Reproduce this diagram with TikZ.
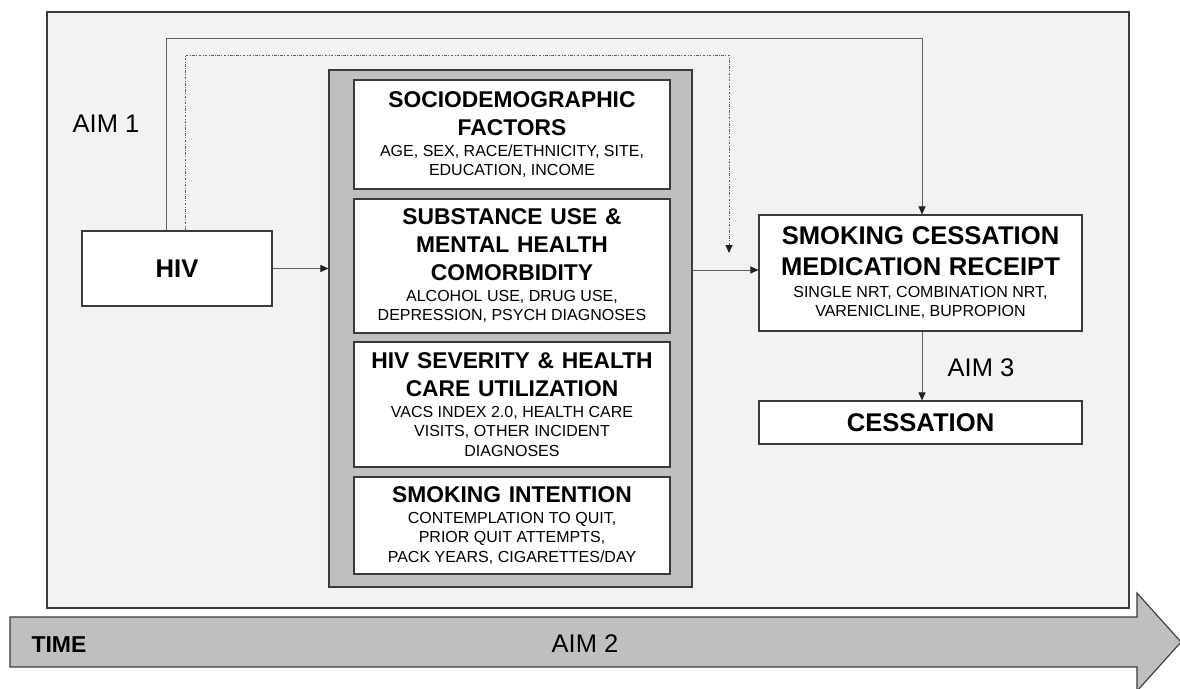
\documentclass[tikz,border=0pt]{standalone}
\usepackage{fontspec}
\setmainfont{Liberation Sans}
\usetikzlibrary{arrows.meta,positioning}
\definecolor{bgl}{HTML}{F2F2F2}
\definecolor{gry}{HTML}{BFBFBF}
\definecolor{edge}{HTML}{3A3A3A}
\definecolor{lne}{HTML}{5E5E5E}
\definecolor{tip}{HTML}{202020}
\newcommand{\hdA}{\fontsize{22.8}{27.7}\selectfont\bfseries\spaceskip=0.34em\relax}
\newcommand{\hdB}{\fontsize{25.6}{31}\selectfont\bfseries\spaceskip=0.3em\relax}
\newcommand{\sbA}{\fontsize{16}{19.5}\selectfont\spaceskip=0.28em\relax}
\newcommand{\aimf}{\fontsize{25.5}{30}\selectfont}
\tikzset{
  wbox/.style={draw=edge, line width=1.1pt, fill=white, rectangle, inner sep=0pt, align=center},
  conn/.style={draw=lne, line width=0.9pt},
  arr/.style={conn, -{Triangle[length=8pt,width=7pt,color=tip]}},
  dotconn/.style={draw=lne, line width=0.8pt, dash pattern=on 2.5pt off 1.5pt on 0.8pt off 1.5pt},
  darr/.style={dotconn, -{Triangle[length=8pt,width=7pt,color=tip]}},
}
\begin{document}
\begin{tikzpicture}[x=1pt,y=-1pt]
\useasboundingbox (0,0) rectangle (1180,688);
\fill[white] (0,0) rectangle (1180,688);
% outer light box
\node[draw=edge, line width=1.2pt, fill=bgl, minimum width=1082pt, minimum height=596pt, inner sep=0pt] (outer) at (588,310) {};
% time arrow
\draw[edge, line width=1.1pt, fill=gry, line join=miter]
  (10,617) -- (1137,617) -- (1137,593) -- (1181,642) -- (1137,691) -- (1137,667) -- (10,667) -- cycle;
\node[anchor=base west, font=\fontsize{23}{27}\selectfont\bfseries] (time) at (28,652) {TIME};
\node[anchor=base, font=\aimf] (aim2) at (585,652) {AIM 2};
% grey container
\node[draw=edge, line width=1.1pt, fill=gry, minimum width=363pt, minimum height=517pt, inner sep=0pt] (grey) at (510.5,328.5) {};
% inner boxes
\node[wbox, minimum width=316pt, minimum height=109pt, text width=312pt] (socio) at (512,134.5)
  {{\hdA SOCIODEMOGRAPHIC\\FACTORS\par}\vspace{1.5pt}{\sbA AGE, SEX, RACE/ETHNICITY, SITE,\\EDUCATION, INCOME\par}};
\node[wbox, minimum width=316pt, minimum height=134pt, text width=312pt] (subst) at (512,266)
  {{\hdA SUBSTANCE USE \&\\MENTAL HEALTH\\COMORBIDITY\par}\vspace{1.5pt}{\sbA ALCOHOL USE, DRUG USE,\\DEPRESSION, PSYCH DIAGNOSES\par}};
\node[wbox, minimum width=316pt, minimum height=125pt, text width=312pt] (sev) at (512,404.5)
  {{\hdA HIV SEVERITY \& HEALTH\\CARE UTILIZATION\par}\vspace{1.5pt}{\sbA VACS INDEX 2.0, HEALTH CARE\\VISITS, OTHER INCIDENT\\DIAGNOSES\par}};
\node[wbox, minimum width=316pt, minimum height=97pt, text width=312pt] (intent) at (512,525.5)
  {{\hdA SMOKING INTENTION\par}\vspace{1.5pt}{\sbA CONTEMPLATION TO QUIT,\\PRIOR QUIT ATTEMPTS,\\PACK YEARS, CIGARETTES/DAY\par}};
% HIV box
\node[wbox, minimum width=190pt, minimum height=75pt, font=\hdB] (hiv) at (177,268.5) {HIV};
% right boxes
\node[wbox, minimum width=323pt, minimum height=116pt, text width=319pt] (scmr) at (920.5,273)
  {{\hdB SMOKING CESSATION\\MEDICATION RECEIPT\par}\vspace{3pt}{\fontsize{16}{19}\selectfont\spaceskip=0.28em\relax SINGLE NRT, COMBINATION NRT,\\VARENICLINE, BUPROPION\par}};
\node[wbox, minimum width=323pt, minimum height=43pt, font=\hdB] (cess) at (920.5,422.5) {CESSATION};
% labels
\node[anchor=base, font=\aimf] (aim1) at (106,132) {AIM 1};
\node[anchor=base, font=\aimf] (aim3) at (981,376) {AIM 3};
% connectors
\coordinate (top1) at (166,38);
\coordinate (top2) at (185,55);
\coordinate (dend) at (729,253);
\draw[arr] (hiv.east) -- (grey.west |- hiv.east);
\draw[arr] ([yshift=3pt]grey.east |- scmr.west) -- ([yshift=3pt]scmr.west);
\draw[arr] ([xshift=-11pt]hiv.north) -- (top1) -| ([xshift=1.5pt]scmr.north);
\draw[darr] ([xshift=8pt]hiv.north) -- (top2) -| (dend);
\draw[arr] ([xshift=1.5pt]scmr.south) -- ([xshift=1.5pt]cess.north);
\end{tikzpicture}
\end{document}
